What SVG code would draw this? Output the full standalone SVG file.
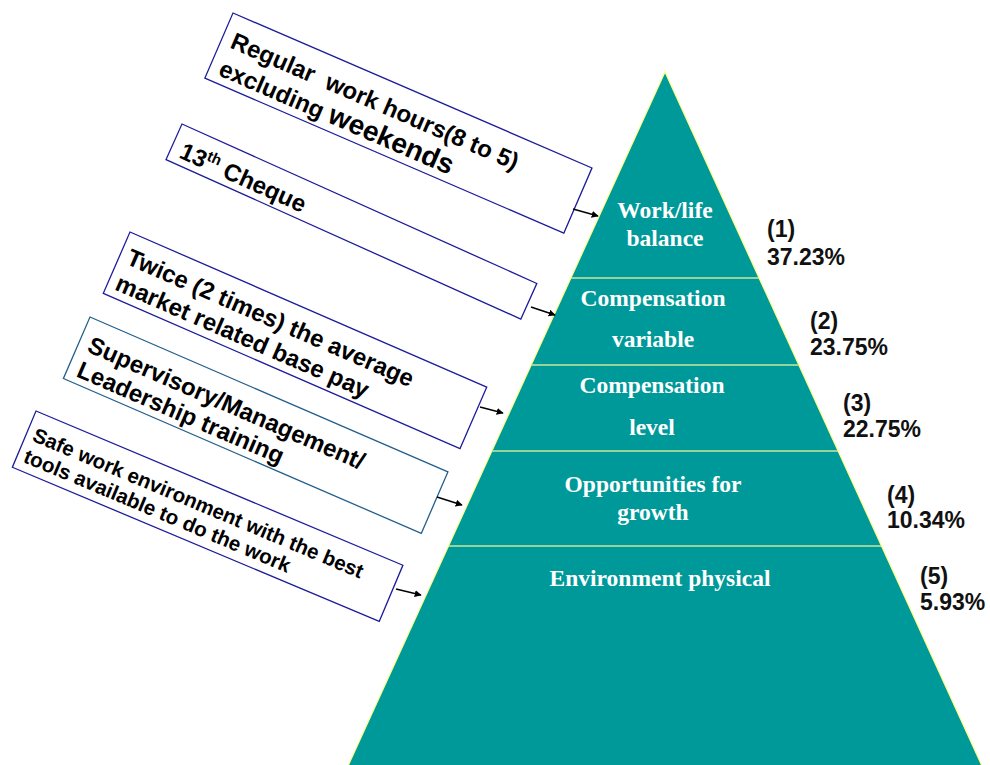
<svg xmlns="http://www.w3.org/2000/svg" width="990" height="765" viewBox="0 0 990 765">
  <style>
    .box { fill: #ffffff; stroke: #1c1c9a; stroke-width: 1.3; }
    .box-alt { fill: #ffffff; stroke: #235f8c; stroke-width: 1.3; }
    .lbl { font-family: "Liberation Sans", Arial, sans-serif; font-weight: bold; fill: #000000; white-space: pre; }
    .tier { font-family: "Liberation Serif", "Times New Roman", serif; font-weight: bold; font-size: 23.5px; fill: #ffffff; text-anchor: middle; }
    .pct { font-family: "Liberation Sans", Arial, sans-serif; font-weight: bold; font-size: 23px; fill: #111111; }
    .divider { stroke: #c8e89c; stroke-width: 1.6; }
    .conn { stroke: #000000; stroke-width: 1.4; fill: none; marker-end: url(#head); }
  </style>
  <defs>
    <marker id="head" viewBox="0 0 10 10" refX="9" refY="5" markerWidth="7" markerHeight="7" markerUnits="userSpaceOnUse" orient="auto">
      <path d="M0,0 L10,5 L0,10 z" fill="#000000"/>
    </marker>
  </defs>

  <!-- pyramid body -->
  <g id="pyramid">
    <polygon points="665,72 348,766 982,766" fill="#009999" stroke="#ffff88" stroke-width="1.2"/>
    <line class="divider" x1="571" y1="278" x2="759" y2="278"/>
    <line class="divider" x1="531" y1="365" x2="799" y2="365"/>
    <line class="divider" x1="492" y1="451" x2="838" y2="451"/>
    <line class="divider" x1="449" y1="546" x2="881" y2="546"/>
  </g>

  <!-- tiers -->
  <g id="tier1">
    <text class="tier" x="665" y="218">Work/life</text>
    <text class="tier" x="665" y="246">balance</text>
    <text class="pct" x="767" y="237">(1)</text>
    <text class="pct" x="767" y="265">37.23%</text>
  </g>
  <g id="tier2">
    <text class="tier" x="653" y="306">Compensation</text>
    <text class="tier" x="653" y="347">variable</text>
    <text class="pct" x="810" y="329">(2)</text>
    <text class="pct" x="810" y="355">23.75%</text>
  </g>
  <g id="tier3">
    <text class="tier" x="652" y="393">Compensation</text>
    <text class="tier" x="652" y="435">level</text>
    <text class="pct" x="843" y="411">(3)</text>
    <text class="pct" x="843" y="437">22.75%</text>
  </g>
  <g id="tier4">
    <text class="tier" x="653" y="492">Opportunities for</text>
    <text class="tier" x="653" y="520">growth</text>
    <text class="pct" x="887" y="503">(4)</text>
    <text class="pct" x="887" y="528">10.34%</text>
  </g>
  <g id="tier5">
    <text class="tier" x="660" y="586">Environment physical</text>
    <text class="pct" x="920" y="584">(5)</text>
    <text class="pct" x="920" y="610">5.93%</text>
  </g>

  <!-- slanted callout boxes -->
  <g id="hours" transform="translate(233,13) rotate(23.35)">
    <rect class="box" width="391" height="71"/>
    <text class="lbl" x="10" y="33" font-size="24">Regular  work hours(8 to 5)</text>
    <text class="lbl" x="10" y="63" font-size="24">excluding <tspan font-size="28">weekends</tspan></text>
  </g>
  <g id="cheque" transform="translate(182,124) rotate(24.2)">
    <rect class="box" width="389" height="39"/>
    <text class="lbl" x="10" y="32" font-size="24">13<tspan font-size="15" dy="-9">th</tspan><tspan dy="9"> Cheque</tspan></text>
  </g>
  <g id="basepay" transform="translate(130,232) rotate(23.5)">
    <rect class="box" width="389" height="67"/>
    <text class="lbl" x="8" y="31" font-size="24">Twice (2 times) the average</text>
    <text class="lbl" x="8" y="59" font-size="24">market related base pay</text>
  </g>
  <g id="training" transform="translate(90,317) rotate(23.4)">
    <rect class="box-alt" width="390" height="67"/>
    <text class="lbl" x="10" y="33" font-size="24">Supervisory/Management/</text>
    <text class="lbl" x="10" y="60" font-size="24">Leadership training</text>
  </g>
  <g id="safety" transform="translate(36,411) rotate(22.8)">
    <rect class="box" width="398" height="61"/>
    <text class="lbl" x="7" y="29" font-size="20.5">Safe work environment with the best</text>
    <text class="lbl" x="7" y="52" font-size="20.5">tools available to do the work</text>
  </g>

  <!-- connectors -->
  <g id="connectors">
    <line class="conn" x1="573" y1="209" x2="598" y2="216"/>
    <line class="conn" x1="531" y1="307" x2="555" y2="315"/>
    <line class="conn" x1="480" y1="407" x2="503" y2="413"/>
    <line class="conn" x1="437" y1="497" x2="462" y2="505"/>
    <line class="conn" x1="396" y1="589" x2="421" y2="595"/>
  </g>
</svg>
